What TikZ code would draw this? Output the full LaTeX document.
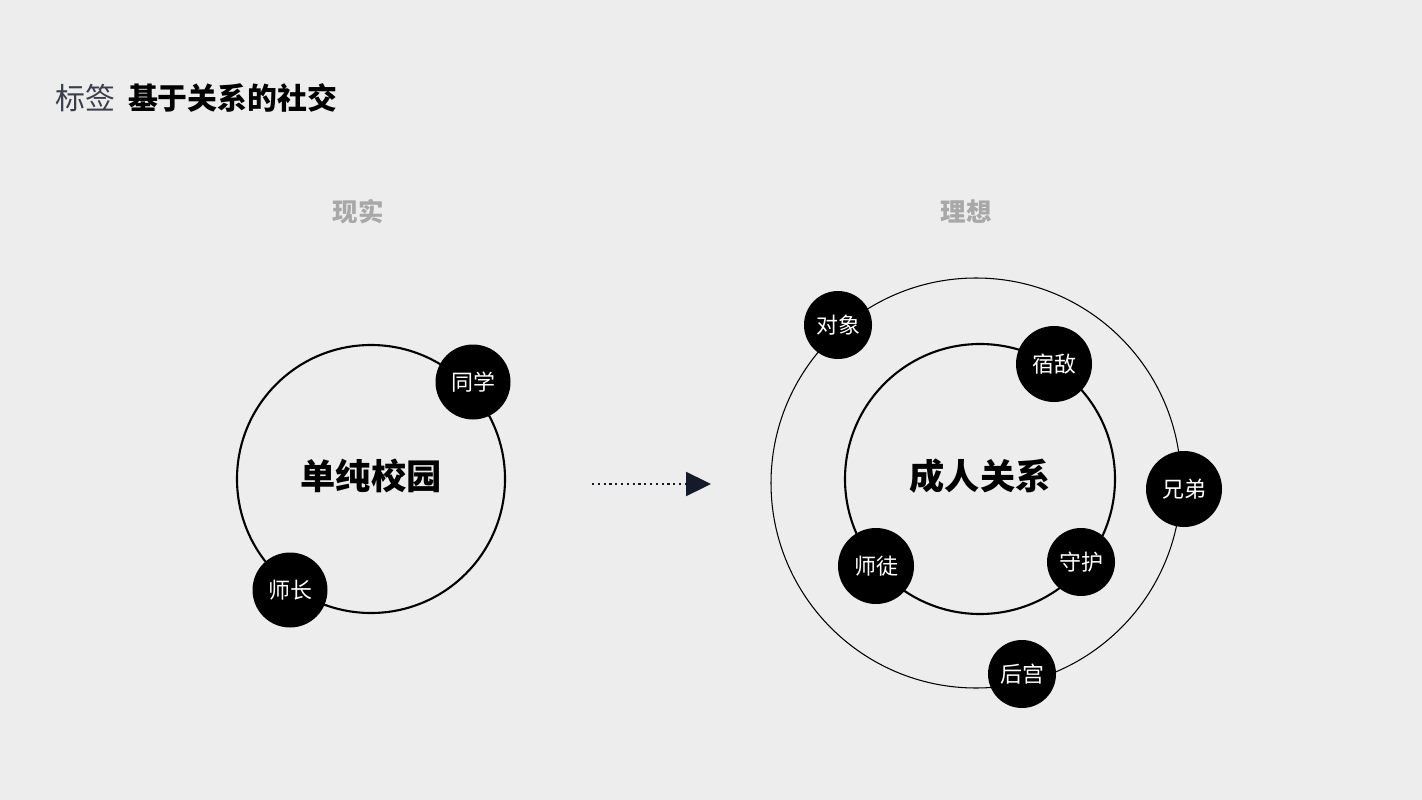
\documentclass[tikz,border=0pt]{standalone}
\usepackage{fontspec}
\setmainfont{Noto Sans CJK SC}
\usetikzlibrary{arrows.meta,positioning}
\definecolor{bg}{HTML}{EDEDED}
\definecolor{titlegray}{HTML}{3A3F4A}
\definecolor{headgray}{HTML}{A8A8A8}
\definecolor{arrowblue}{HTML}{151A2A}
\tikzset{
  tag/.style={circle,fill=black,text=white,inner sep=0pt,font=\fontsize{12.5}{14}\selectfont},
  ring/.style={draw=black,line width=1.2pt},
  thinring/.style={draw=black,line width=0.6pt},
  bigtext/.style={font=\fontsize{20}{24}\selectfont\bfseries},
  head/.style={text=headgray,font=\fontsize{14.5}{16}\selectfont\bfseries}
}
\begin{document}
\begin{tikzpicture}[x=0.02cm,y=-0.02cm]
  \fill[bg] (0,0) rectangle (1422,800);
  \useasboundingbox (0,0) rectangle (1422,800);
  % title
  \node[anchor=west,inner sep=0pt,text=titlegray,font=\fontsize{17}{20}\selectfont] (tag) at (55,98) {标签};
  \node[anchor=west,inner sep=0pt,font=\fontsize{17}{20}\selectfont\bfseries,right=7pt of tag] (title) {基于关系的社交};
  % headings
  \node[head] (real) at (358,212) {现实};
  \node[head] (ideal) at (966,212) {理想};
  % left: reality
  \draw[ring] (371,479) circle (134);
  \node[bigtext] (campus) at (371,476) {单纯校园};
  \node[tag,minimum size=75*0.02cm] (classmate) at (473,382) {同学};
  \node[tag,minimum size=75*0.02cm] (teacher) at (290,590) {师长};
  % arrow
  \coordinate (from) at (592,484);
  \coordinate (to) at (711,484);
  \draw[arrowblue,line width=1.3pt,dotted,-{Triangle[length=0.5cm,width=0.48cm,fill=arrowblue]}] (from) -- (to);
  % right: ideal
  \draw[thinring] (976,483) circle (205);
  \draw[ring] (980,479) circle (135);
  \node[bigtext] (adult) at (980,476) {成人关系};
  \node[tag,minimum size=68*0.02cm] (partner) at (838,325) {对象};
  \node[tag,minimum size=76*0.02cm] (rival) at (1054,364) {宿敌};
  \node[tag,minimum size=76*0.02cm] (brother) at (1184,489) {兄弟};
  \node[tag,minimum size=68*0.02cm] (guard) at (1081,562) {守护};
  \node[tag,minimum size=76*0.02cm] (mentor) at (876,566) {师徒};
  \node[tag,minimum size=68*0.02cm] (harem) at (1022,674) {后宫};
\end{tikzpicture}
\end{document}
